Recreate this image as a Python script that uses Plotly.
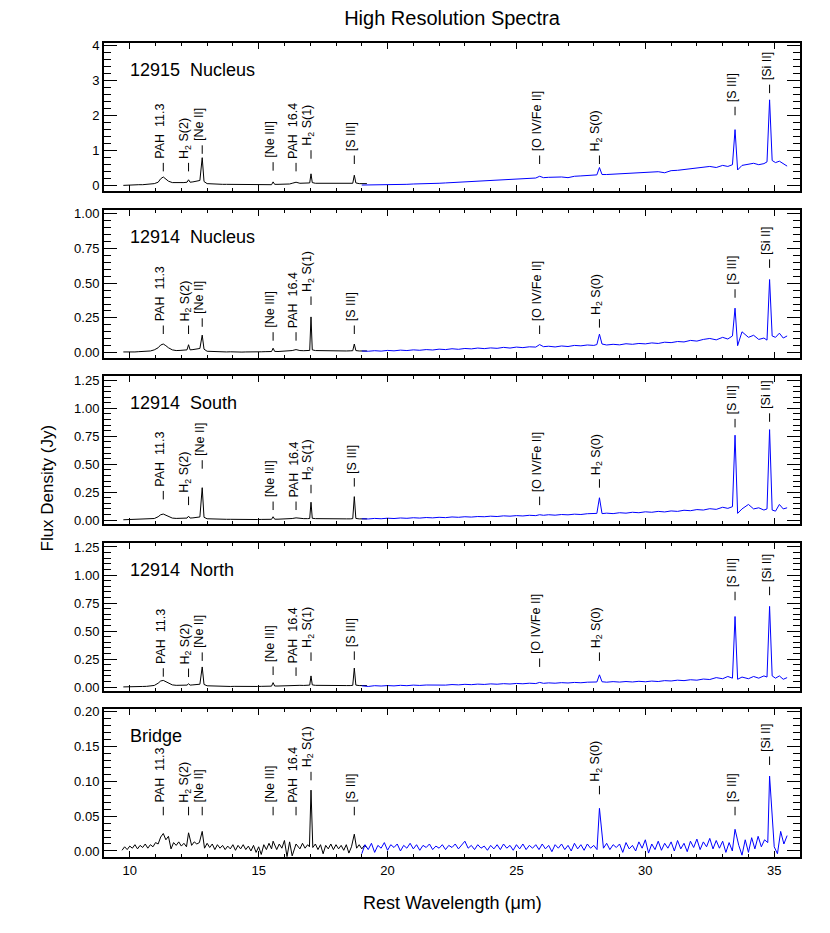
import plotly.graph_objects as go
from plotly.subplots import make_subplots

# wavelength grids (micron) for the short-high (black) and long-high (blue) modules
SH_WAVE = [9.75, 9.9, 10.05, 10.2, 10.35, 10.5, 10.65, 10.8, 10.95, 11.1, 11.2, 11.3, 11.4, 11.5,
           11.65, 11.8, 11.95, 12.1, 12.22, 12.28, 12.34, 12.45, 12.6, 12.72, 12.81, 12.88, 13.0,
           13.15, 13.3, 13.45, 13.6, 13.75, 13.9, 14.05, 14.2, 14.35, 14.5, 14.65, 14.8, 14.95,
           15.1, 15.25, 15.4, 15.5, 15.56, 15.62, 15.75, 15.9, 16.05, 16.2, 16.3, 16.45, 16.6,
           16.75, 16.9, 16.98, 17.03, 17.08, 17.2, 17.35, 17.5, 17.65, 17.8, 17.95, 18.1, 18.25,
           18.4, 18.55, 18.65, 18.71, 18.77, 18.9, 19.05, 19.2]
LH_WAVE = [19.0, 19.25, 19.5, 19.75, 20.0, 20.25, 20.5, 20.75, 21.0, 21.25, 21.5, 21.75, 22.0,
           22.25, 22.5, 22.75, 23.0, 23.25, 23.5, 23.75, 24.0, 24.25, 24.5, 24.75, 25.0, 25.25,
           25.5, 25.75, 25.9, 26.05, 26.25, 26.5, 26.75, 27.0, 27.25, 27.5, 27.75, 28.0, 28.12,
           28.22, 28.32, 28.5, 28.75, 29.0, 29.25, 29.5, 29.75, 30.0, 30.25, 30.5, 30.75, 31.0,
           31.25, 31.5, 31.75, 32.0, 32.25, 32.5, 32.75, 33.0, 33.2, 33.38, 33.48, 33.58, 33.75,
           34.0, 34.2, 34.4, 34.6, 34.72, 34.82, 34.92, 35.05, 35.2, 35.35, 35.5]

# the faint Bridge spectrum is noisy, so it is read on a finer grid
BRIDGE_SH_WAVE = [9.7, 9.8, 9.9, 10.0, 10.1, 10.2, 10.3, 10.4, 10.5, 10.6, 10.7, 10.8, 10.9, 11.0,
                  11.1, 11.2, 11.3, 11.4, 11.5, 11.6, 11.7, 11.8, 11.9, 12.0, 12.1, 12.2, 12.28,
                  12.4, 12.5, 12.6, 12.7, 12.81, 12.9, 13.0, 13.1, 13.2, 13.3, 13.4, 13.5, 13.6,
                  13.7, 13.8, 13.9, 14.0, 14.1, 14.2, 14.3, 14.4, 14.5, 14.6, 14.7, 14.8, 14.9,
                  15.0, 15.1, 15.2, 15.3, 15.4, 15.5, 15.56, 15.7, 15.8, 15.9, 16.0, 16.1, 16.2,
                  16.3, 16.45, 16.6, 16.7, 16.8, 16.9, 16.97, 17.03, 17.1, 17.2, 17.3, 17.4, 17.5,
                  17.6, 17.7, 17.8, 17.9, 18.0, 18.1, 18.2, 18.3, 18.4, 18.5, 18.6, 18.71, 18.8,
                  18.9, 19.0, 19.1, 19.2]
BRIDGE_LH_WAVE = [19.0, 19.125, 19.25, 19.375, 19.5, 19.625, 19.75, 19.875,
                  20.0, 20.125, 20.25, 20.375, 20.5, 20.625, 20.75, 20.875,
                  21.0, 21.125, 21.25, 21.375, 21.5, 21.625, 21.75, 21.875,
                  22.0, 22.125, 22.25, 22.375, 22.5, 22.625, 22.75, 22.875,
                  23.0, 23.125, 23.25, 23.375, 23.5, 23.625, 23.75, 23.875,
                  24.0, 24.125, 24.25, 24.375, 24.5, 24.625, 24.75, 24.875,
                  25.0, 25.125, 25.25, 25.375, 25.5, 25.625, 25.75, 25.875,
                  26.0, 26.125, 26.25, 26.375, 26.5, 26.625, 26.75, 26.875,
                  27.0, 27.125, 27.25, 27.375, 27.5, 27.625, 27.75, 27.875,
                  28.0, 28.125, 28.22, 28.375, 28.5, 28.625, 28.75, 28.875,
                  29.0, 29.125, 29.25, 29.375, 29.5, 29.625, 29.75, 29.875,
                  30.0, 30.125, 30.25, 30.375, 30.5, 30.625, 30.75, 30.875,
                  31.0, 31.125, 31.25, 31.375, 31.5, 31.625, 31.75, 31.875,
                  32.0, 32.125, 32.25, 32.375, 32.5, 32.625, 32.75, 32.875,
                  33.0, 33.125, 33.25, 33.375, 33.48, 33.625, 33.75, 33.875,
                  34.0, 34.125, 34.25, 34.375, 34.5, 34.625, 34.75, 34.82,
                  35.0, 35.125, 35.25, 35.375, 35.5]

# flux density (Jy)
SH_12915_NUC = [0.01, 0.02, 0.02, 0.02, 0.03, 0.03, 0.04, 0.05, 0.06, 0.10, 0.20, 0.25, 0.19, 0.13,
                0.09, 0.08, 0.09, 0.09, 0.10, 0.17, 0.10, 0.11, 0.13, 0.15, 0.80, 0.12, 0.06,
                0.05, 0.05, 0.05, 0.04, 0.04, 0.04, 0.04, 0.04, 0.04, 0.03, 0.03, 0.03, 0.03,
                0.03, 0.03, 0.03, 0.03, 0.11, 0.04, 0.04, 0.04, 0.04, 0.05, 0.07, 0.10, 0.07,
                0.07, 0.07, 0.08, 0.34, 0.09, 0.07, 0.07, 0.07, 0.07, 0.07, 0.06, 0.06, 0.06,
                0.06, 0.06, 0.07, 0.30, 0.08, 0.06, 0.05, 0.06]
LH_12915_NUC = [0.02, 0.02, 0.03, 0.03, 0.03, 0.04, 0.04, 0.04, 0.05, 0.05, 0.06, 0.06, 0.07,
                0.08, 0.09, 0.10, 0.11, 0.12, 0.13, 0.14, 0.15, 0.16, 0.17, 0.18, 0.19, 0.20,
                0.21, 0.22, 0.27, 0.23, 0.24, 0.25, 0.25, 0.23, 0.27, 0.28, 0.29, 0.30, 0.31,
                0.52, 0.32, 0.32, 0.33, 0.34, 0.35, 0.36, 0.37, 0.38, 0.39, 0.40, 0.37, 0.43,
                0.44, 0.46, 0.48, 0.50, 0.52, 0.55, 0.52, 0.58, 0.55, 0.60, 1.60, 0.45, 0.58,
                0.62, 0.64, 0.60, 0.63, 0.68, 2.45, 0.72, 0.66, 0.70, 0.64, 0.56]

SH_12914_NUC = [0.005, 0.004, 0.006, 0.005, 0.007, 0.008, 0.010, 0.012, 0.020, 0.035, 0.055, 0.062,
                0.050, 0.035, 0.020, 0.015, 0.016, 0.018, 0.020, 0.057, 0.020, 0.022, 0.025, 0.030,
                0.126, 0.025, 0.010, 0.008, 0.007, 0.007, 0.006, 0.005, 0.006, 0.004, 0.005, 0.004,
                0.005, 0.004, 0.006, 0.005, 0.006, 0.007, 0.008, 0.008, 0.032, 0.009, 0.008, 0.010,
                0.011, 0.012, 0.015, 0.022, 0.015, 0.014, 0.014, 0.016, 0.257, 0.020, 0.015, 0.014,
                0.013, 0.014, 0.012, 0.013, 0.012, 0.013, 0.012, 0.013, 0.014, 0.062, 0.015, 0.012,
                0.013, 0.012]
LH_12914_NUC = [0.012, 0.010, 0.014, 0.011, 0.016, 0.013, 0.018, 0.015, 0.020, 0.017, 0.022, 0.019,
                0.025, 0.022, 0.028, 0.024, 0.030, 0.027, 0.033, 0.029, 0.034, 0.031, 0.038, 0.033,
                0.040, 0.036, 0.042, 0.040, 0.058, 0.043, 0.046, 0.041, 0.048, 0.044, 0.052, 0.049,
                0.055, 0.052, 0.058, 0.133, 0.062, 0.055, 0.060, 0.056, 0.064, 0.060, 0.066, 0.063,
                0.070, 0.066, 0.075, 0.072, 0.080, 0.077, 0.088, 0.083, 0.095, 0.102, 0.092, 0.110,
                0.098, 0.120, 0.320, 0.050, 0.150, 0.110, 0.125, 0.095, 0.105, 0.090, 0.526, 0.120,
                0.110, 0.140, 0.105, 0.120]

SH_12914_S = [0.003, 0.004, 0.003, 0.005, 0.004, 0.006, 0.007, 0.009, 0.014, 0.030, 0.048, 0.054,
              0.045, 0.030, 0.018, 0.015, 0.014, 0.016, 0.018, 0.035, 0.018, 0.020, 0.024, 0.028,
              0.290, 0.025, 0.012, 0.010, 0.009, 0.008, 0.008, 0.007, 0.007, 0.006, 0.006, 0.005,
              0.006, 0.005, 0.006, 0.005, 0.006, 0.006, 0.007, 0.007, 0.030, 0.008, 0.008, 0.009,
              0.010, 0.011, 0.014, 0.020, 0.014, 0.013, 0.013, 0.014, 0.160, 0.016, 0.013, 0.012,
              0.012, 0.012, 0.011, 0.011, 0.011, 0.010, 0.011, 0.011, 0.013, 0.210, 0.015, 0.011,
              0.012, 0.011]
LH_12914_S = [0.012, 0.010, 0.015, 0.012, 0.017, 0.014, 0.019, 0.016, 0.021, 0.018, 0.023, 0.020,
              0.025, 0.022, 0.028, 0.025, 0.030, 0.027, 0.032, 0.030, 0.035, 0.032, 0.038, 0.035,
              0.040, 0.037, 0.043, 0.040, 0.048, 0.043, 0.048, 0.044, 0.050, 0.047, 0.053, 0.050,
              0.057, 0.055, 0.060, 0.200, 0.058, 0.062, 0.058, 0.066, 0.062, 0.070, 0.066, 0.074,
              0.070, 0.078, 0.073, 0.082, 0.078, 0.088, 0.084, 0.094, 0.090, 0.102, 0.096, 0.115,
              0.105, 0.120, 0.760, 0.060, 0.100, 0.140, 0.100, 0.110, 0.090, 0.100, 0.810, 0.090,
              0.080, 0.140, 0.100, 0.110]

SH_12914_N = [0.002, 0.004, 0.003, 0.005, 0.004, 0.006, 0.007, 0.009, 0.015, 0.035, 0.055, 0.060,
              0.048, 0.032, 0.020, 0.016, 0.015, 0.017, 0.018, 0.030, 0.018, 0.020, 0.023, 0.026,
              0.180, 0.024, 0.012, 0.010, 0.009, 0.008, 0.008, 0.007, 0.006, 0.007, 0.006, 0.005,
              0.006, 0.005, 0.007, 0.006, 0.007, 0.008, 0.009, 0.009, 0.040, 0.010, 0.010, 0.011,
              0.012, 0.013, 0.015, 0.020, 0.016, 0.015, 0.016, 0.018, 0.100, 0.020, 0.016, 0.015,
              0.014, 0.015, 0.014, 0.013, 0.014, 0.013, 0.014, 0.014, 0.016, 0.170, 0.018, 0.014,
              0.013, 0.014]
LH_12914_N = [0.012, 0.006, 0.013, 0.010, 0.014, 0.011, 0.016, 0.013, 0.018, 0.015, 0.019, 0.017,
              0.021, 0.018, 0.023, 0.020, 0.025, 0.022, 0.027, 0.024, 0.029, 0.026, 0.031, 0.028,
              0.033, 0.030, 0.035, 0.032, 0.042, 0.034, 0.038, 0.035, 0.040, 0.037, 0.042, 0.039,
              0.044, 0.041, 0.046, 0.110, 0.048, 0.044, 0.049, 0.045, 0.050, 0.046, 0.052, 0.048,
              0.054, 0.050, 0.058, 0.055, 0.062, 0.058, 0.066, 0.062, 0.072, 0.068, 0.085, 0.075,
              0.095, 0.080, 0.630, 0.070, 0.090, 0.075, 0.095, 0.080, 0.100, 0.090, 0.720, 0.100,
              0.080, 0.100, 0.070, 0.085]

SH_BRIDGE = [0.001, 0.006, 0.002, 0.007, 0.004, 0.009, 0.003, 0.008, 0.005, 0.010, 0.004, 0.009,
             0.006, 0.012, 0.010, 0.020, 0.025, 0.016, 0.021, 0.003, 0.012, 0.008, 0.013, 0.007,
             0.011, 0.006, 0.026, 0.008, 0.013, 0.010, 0.012, 0.028, 0.004, 0.011, 0.005, 0.010,
             0.002, 0.009, 0.004, 0.008, 0.002, 0.007, 0.003, 0.009, 0.001, 0.008, 0.003, 0.009,
             0.002, 0.007, 0.000, 0.008, -0.002, 0.006, -0.005, 0.009, 0.002, 0.011, 0.003, 0.014,
             0.002, 0.010, 0.004, 0.015, -0.008, 0.013, -0.007, 0.010, 0.003, 0.011, 0.004, 0.009,
             0.006, 0.087, 0.005, 0.010, 0.002, 0.009, -0.004, 0.008, 0.003, 0.010, 0.002, 0.009,
             0.003, 0.008, 0.001, 0.009, -0.003, 0.006, 0.024, 0.004, 0.009, 0.003, 0.008, 0.005]
LH_BRIDGE = [-0.004, 0.009, 0.002, 0.011, -0.002, 0.008, 0.004, 0.012,
             0.001, 0.009, 0.005, 0.010, 0.000, 0.008, 0.004, 0.011,
             0.003, 0.009, 0.001, 0.008, 0.005, 0.010, 0.002, 0.007,
             0.004, 0.009, 0.002, 0.008, 0.005, 0.010, 0.003, 0.008,
             0.014, 0.004, 0.008, 0.002, 0.009, 0.004, 0.007, 0.001,
             0.008, 0.003, 0.009, 0.002, 0.010, 0.004, 0.008, 0.001,
             0.009, 0.003, 0.010, 0.002, 0.008, 0.004, 0.009, 0.002,
             0.010, 0.003, 0.008, -0.001, 0.009, 0.004, 0.010, 0.002,
             0.008, 0.000, 0.011, 0.003, 0.009, 0.001, 0.010, 0.004,
             0.008, 0.002, 0.061, 0.004, 0.011, 0.002, 0.009, 0.005,
             0.010, -0.002, 0.012, 0.003, 0.008, 0.000, 0.013, 0.004,
             0.016, -0.003, 0.010, 0.002, 0.014, 0.001, 0.011, 0.004,
             0.013, 0.000, 0.015, 0.003, 0.011, -0.001, 0.014, 0.005,
             0.017, 0.002, 0.013, 0.006, 0.018, 0.003, 0.015, 0.004,
             0.014, -0.002, 0.012, 0.000, 0.031, 0.008, -0.006, 0.016,
             -0.002, 0.019, 0.003, 0.021, 0.006, 0.016, 0.012, 0.107,
             0.006, -0.004, 0.028, 0.010, 0.022]

PANEL_NAMES = ["12915\u00a0 Nucleus", "12914\u00a0 Nucleus", "12914\u00a0 South",
               "12914\u00a0 North", "Bridge"]
SH_WAVES = [SH_WAVE, SH_WAVE, SH_WAVE, SH_WAVE, BRIDGE_SH_WAVE]
LH_WAVES = [LH_WAVE, LH_WAVE, LH_WAVE, LH_WAVE, BRIDGE_LH_WAVE]
SH_FLUX = [SH_12915_NUC, SH_12914_NUC, SH_12914_S, SH_12914_N, SH_BRIDGE]
LH_FLUX = [LH_12915_NUC, LH_12914_NUC, LH_12914_S, LH_12914_N, LH_BRIDGE]

LINE_NAMES = ["PAH\u00a0 11.3", "H<sub>2</sub> S(2)", "[Ne II]", "[Ne III]", "PAH\u00a0 16.4",
              "H<sub>2</sub> S(1)", "[S III]", "[O IV/Fe II]", "H<sub>2</sub> S(0)", "[S III]",
              "[Si II]"]
LINE_WAVES = [11.3, 12.28, 12.81, 15.56, 16.45, 17.03, 18.71, 25.9, 28.22, 33.48, 34.82]
# height (Jy) where each line marker starts, per panel; None = not marked
MARK_12915_NUC = [0.41, 0.41, 0.91, 0.43, 0.41, 0.77, 0.62, 0.62, 0.62, 2.01, 2.64]
MARK_12914_NUC = [0.134, 0.134, 0.186, 0.086, 0.086, 0.343, 0.134, 0.134, 0.18, 0.395, 0.61]
MARK_12914_S = [0.185, 0.134, 0.46, 0.09, 0.09, 0.24, 0.30, 0.134, 0.29, 0.83, 0.88]
MARK_12914_N = [0.093, 0.09, 0.234, 0.108, 0.10, 0.234, 0.243, 0.18, 0.234, 0.775, 0.82]
MARK_BRIDGE = [0.051, 0.051, 0.051, 0.051, 0.051, 0.101, 0.051, None, 0.081, 0.051, 0.123]
MARKS = [MARK_12915_NUC, MARK_12914_NUC, MARK_12914_S, MARK_12914_N, MARK_BRIDGE]

Y_RANGES = [[-0.15, 4.07], [-0.035, 1.03], [-0.035, 1.29], [-0.03, 1.29], [-0.0086, 0.203]]
Y_DTICK = [1, 0.25, 0.25, 0.25, 0.05]
Y_MINOR = [0.2, 0.05, 0.05, 0.05, 0.01]
Y_FMT = ["d", ".2f", ".2f", ".2f", ".2f"]

FONT = "Liberation Sans, Arial, sans-serif"
# the page body adds an 8px margin, so the figure is drawn 8px smaller
W, H = 822, 925
M_L, M_R, M_T, M_B = 96, 30, 35, 76
PLOT_W = W - M_L - M_R
PLOT_H = H - M_T - M_B
PANEL_PX = 148
TICK_PX = 8.5

fig = make_subplots(rows=5, cols=1, shared_xaxes=True, vertical_spacing=18.5 / PLOT_H)

for i in range(5):
    row = i + 1
    fig.add_trace(go.Scatter(x=SH_WAVES[i], y=SH_FLUX[i], mode="lines",
                             line=dict(color="black", width=1), hoverinfo="skip"), row=row, col=1)
    fig.add_trace(go.Scatter(x=LH_WAVES[i], y=LH_FLUX[i], mode="lines",
                             line=dict(color="#0000ff", width=1), hoverinfo="skip"), row=row, col=1)

    ymin, ymax = Y_RANGES[i]
    tick_len = TICK_PX * (ymax - ymin) / PANEL_PX
    xref = "x" if row == 1 else f"x{row}"
    yref = "y" if row == 1 else f"y{row}"
    for name, wave, base in zip(LINE_NAMES, LINE_WAVES, MARKS[i]):
        if base is None:
            continue
        fig.add_shape(type="line", xref=xref, yref=yref, x0=wave, x1=wave,
                      y0=base, y1=base + tick_len, line=dict(color="black", width=1))
        fig.add_annotation(x=wave, y=base, xref=xref, yref=yref, text=name, showarrow=False,
                           textangle=-90, xanchor="center", yanchor="bottom",
                           yshift=TICK_PX + 2, xshift=-3,
                           font=dict(family=FONT, size=12.5, color="black"))

    fig.add_annotation(x=0.035, y=1 - 27 / PANEL_PX, xref=f"{xref} domain", yref=f"{yref} domain",
                       text=PANEL_NAMES[i], showarrow=False, xanchor="left", yanchor="middle",
                       font=dict(family=FONT, size=18, color="black"))

    fig.update_yaxes(row=row, col=1, range=Y_RANGES[i], dtick=Y_DTICK[i], tick0=0,
                     tickformat=Y_FMT[i], ticks="inside", ticklen=13, tickwidth=1,
                     tickcolor="black", showline=True, linecolor="black", linewidth=2,
                     mirror="ticks", showgrid=False, zeroline=False,
                     tickfont=dict(family=FONT, size=13, color="black"),
                     minor=dict(dtick=Y_MINOR[i], tick0=0, ticks="inside", ticklen=7,
                                tickcolor="black", tickwidth=1, showgrid=False))
    fig.update_xaxes(row=row, col=1, range=[9, 36], dtick=5, tick0=0, ticks="inside",
                     ticklen=6, tickwidth=1, tickcolor="black", showline=True,
                     linecolor="black", linewidth=2, mirror="ticks", showgrid=False,
                     zeroline=False, showticklabels=(row == 5),
                     tickfont=dict(family=FONT, size=13, color="black"),
                     minor=dict(dtick=1, tick0=0, ticks="inside", ticklen=3,
                                tickcolor="black", tickwidth=1, showgrid=False))

# axis titles, placed in page pixels (minus the 8px body margin)
fig.add_annotation(x=0.5, y=(H - M_B - 895) / PLOT_H, xref="paper", yref="paper",
                   text="Rest Wavelength (\u03bcm)", showarrow=False, yanchor="middle",
                   font=dict(family=FONT, size=18, color="black"))
fig.add_annotation(x=(27 - M_L) / PLOT_W, y=(H - M_B - 480) / PLOT_H, xref="paper", yref="paper",
                   text="Flux Density (Jy)", showarrow=False, textangle=-90,
                   font=dict(family=FONT, size=17, color="black"))

fig.update_layout(
    width=W,
    height=H,
    margin=dict(l=M_L, r=M_R, t=M_T, b=M_B),
    paper_bgcolor="white",
    plot_bgcolor="white",
    showlegend=False,
    title=dict(text="High Resolution Spectra", x=0.5, xref="paper", xanchor="center",
               y=1 - 10 / H, yanchor="middle",
               font=dict(family=FONT, size=20, color="black")),
    font=dict(family=FONT, color="black"),
)

fig.write_html("out.html")
